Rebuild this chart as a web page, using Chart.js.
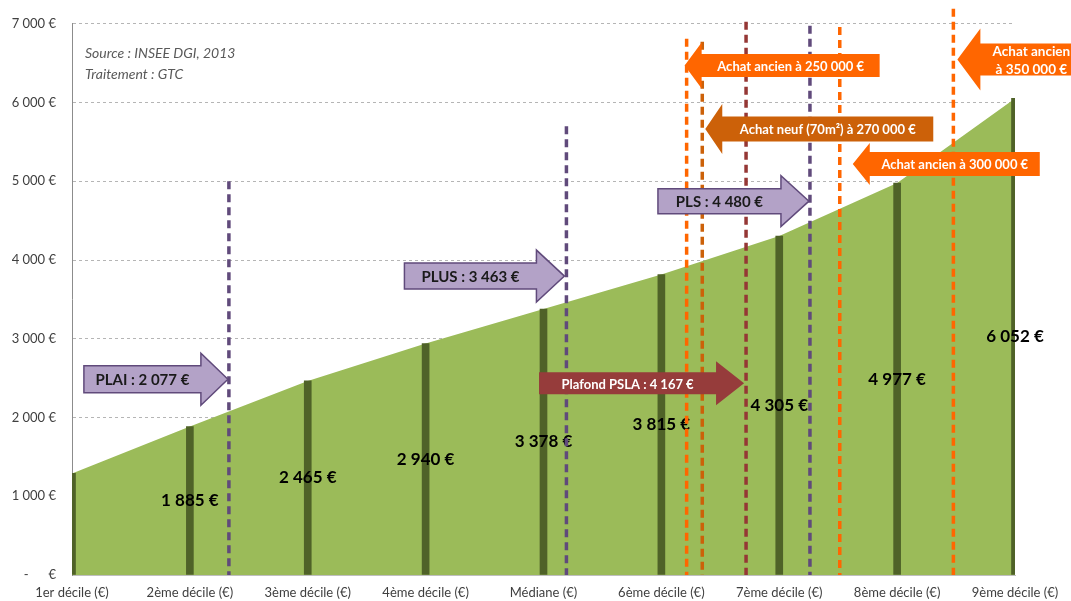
<!DOCTYPE html>
<html>
<head>
<meta charset="utf-8">
<script src="https://cdn.jsdelivr.net/npm/chart.js@4.4.0/dist/chart.umd.min.js"></script>
<style>
    html, body { margin: 0; padding: 0; background: #fff; }
    canvas { display: block; }
</style>
</head>
<body>
<canvas id="revenusChart" width="1071" height="601"></canvas>
<script>
// Revenus mensuels par décile
const deciles = ['1er décile (€)', '2ème décile (€)', '3ème décile (€)', '4ème décile (€)', 'Médiane (€)',
    '6ème décile (€)', '7ème décile (€)', '8ème décile (€)', '9ème décile (€)'];
const revenus = [1290, 1885, 2465, 2940, 3378, 3815, 4305, 4977, 6052];
const yTicks = [0, 1000, 2000, 3000, 4000, 5000, 6000, 7000];

// Plafonds de ressources (logement social / accession)
const plafondNoms = ['PLAI', 'PLUS', 'PLS', 'Plafond PSLA'];
const plafonds = [2077, 3463, 4480, 4167];

// Achats : prix et revenu mensuel nécessaire
const achatNoms = ['Achat ancien', 'Achat neuf (70m²)', 'Achat ancien', 'Achat ancien'];
const achatPrix = [250000, 270000, 300000, 350000];
const achatRevenus = [3920, 3985, 4650, 5490];

const fmt = v => String(v).replace(/\B(?=(\d{3})+(?!\d))/g, ' ') + ' €';

// position (en index de catégorie) d'un revenu sur la courbe
function indexPour(v) {
    for (let i = 0; i < revenus.length - 1; i++) {
        if (v <= revenus[i + 1]) return i + (v - revenus[i]) / (revenus[i + 1] - revenus[i]);
    }
    return revenus.length - 1;
}

// mise en forme des flèches : haut = fin du trait pointillé, y = centre de la flèche (en €)
const styleMarqueurs = [
    { trait: '#604a7b', fond: '#b3a2c7', bord: '#604a7b', texte: '#1a1a1a', haut: 5000, y: 2485, sens: 1, dx: -1, long: 144, corps: 13.5, tete: 26, teteL: 27, taille: 15 },
    { trait: '#604a7b', fond: '#b3a2c7', bord: '#604a7b', texte: '#1a1a1a', haut: 5700, y: 3796, sens: 1, dx: -2, long: 160, corps: 13, tete: 26, teteL: 28, taille: 15 },
    { trait: '#604a7b', fond: '#b3a2c7', bord: '#604a7b', texte: '#1a1a1a', haut: 6975, y: 4748, sens: 1, dx: -1, long: 151, corps: 12.5, tete: 25.5, teteL: 28, taille: 15 },
    { trait: '#953735', fond: '#963c3b', bord: null, texte: '#ffffff', haut: 7025, y: 2434, sens: 1, dx: -2, long: 205, corps: 11, tete: 22, teteL: 28, taille: 13 },
    { trait: '#ff6600', fond: '#ff6600', bord: null, texte: '#ffffff', haut: 6810, y: 6470, sens: -1, dx: -2, long: 195, corps: 11.5, tete: 23, teteL: 17, taille: 13 },
    { trait: '#cc6109', fond: '#cc6109', bord: null, texte: '#ffffff', haut: 6772, y: 5663, sens: -1, dx: 3, long: 228, corps: 12.5, tete: 25, teteL: 17, taille: 13 },
    { trait: '#ff6600', fond: '#ff6600', bord: null, texte: '#ffffff', haut: 6960, y: 5221, sens: -1, dx: 13, long: 187, corps: 12, tete: 21, teteL: 17, taille: 13 },
    { trait: '#ff6600', fond: '#ff6600', bord: null, texte: '#ffffff', haut: 7190, y: 6546, sens: -1, dx: 4, long: 125, corps: 16, tete: 31, teteL: 23, taille: 13.5 }
];

const marqueurs = [];
plafonds.forEach((v, i) => marqueurs.push({ revenu: v, lignes: [plafondNoms[i] + ' : ' + fmt(v)] }));
achatRevenus.forEach((v, i) => {
    const prix = 'à ' + fmt(achatPrix[i]);
    // le dernier libellé tient sur deux lignes
    marqueurs.push({ revenu: v, lignes: i === 3 ? [achatNoms[i], prix] : [achatNoms[i] + ' ' + prix] });
});

function fleche(ctx, tipX, cy, s) {
    const queue = tipX - s.sens * s.long;
    const dos = tipX - s.sens * s.teteL;
    ctx.beginPath();
    ctx.moveTo(queue, cy - s.corps);
    ctx.lineTo(dos, cy - s.corps);
    ctx.lineTo(dos, cy - s.tete);
    ctx.lineTo(tipX, cy);
    ctx.lineTo(dos, cy + s.tete);
    ctx.lineTo(dos, cy + s.corps);
    ctx.lineTo(queue, cy + s.corps);
    ctx.closePath();
    return (queue + dos) / 2;
}

const annotations = {
    id: 'annotations',
    afterDatasetsDraw(chart) {
        const ctx = chart.ctx;
        const xs = chart.scales.x, ys = chart.scales.y;
        const bars = chart.getDatasetMeta(0).data;
        ctx.save();

        // source
        ctx.font = 'italic 14px Lato';
        ctx.fillStyle = '#595959';
        ctx.textAlign = 'left';
        ctx.textBaseline = 'middle';
        ctx.fillText('Source : INSEE DGI, 2013', 85, 53);
        ctx.fillText('Traitement : GTC', 85, 74);

        // valeurs au milieu des barres (le 1er décile n'est pas étiqueté)
        ctx.font = 'bold 17px Lato';
        ctx.fillStyle = '#000';
        ctx.textAlign = 'center';
        for (let i = 1; i < revenus.length; i++) {
            ctx.fillText(fmt(revenus[i]), bars[i].x, ys.getPixelForValue(revenus[i] / 2));
        }

        // traits pointillés
        ctx.lineWidth = 3.5;
        ctx.setLineDash([8, 5]);
        marqueurs.forEach((m, i) => {
            const s = styleMarqueurs[i];
            const x = xs.getPixelForValue(indexPour(m.revenu));
            ctx.strokeStyle = s.trait;
            ctx.beginPath();
            ctx.moveTo(x, ys.getPixelForValue(s.haut));
            ctx.lineTo(x, ys.getPixelForValue(0));
            ctx.stroke();
        });
        ctx.setLineDash([]);

        // flèches
        marqueurs.forEach((m, i) => {
            const s = styleMarqueurs[i];
            const x = xs.getPixelForValue(indexPour(m.revenu)) + s.dx;
            const cy = ys.getPixelForValue(s.y);
            const cx = fleche(ctx, x, cy, s);
            ctx.fillStyle = s.fond;
            ctx.fill();
            if (s.bord) {
                ctx.lineWidth = 1.5;
                ctx.strokeStyle = s.bord;
                ctx.stroke();
            }
            ctx.font = 'bold ' + s.taille + 'px Lato';
            ctx.fillStyle = s.texte;
            const h = s.taille + 4;
            m.lignes.forEach((t, k) => {
                ctx.fillText(t, cx, cy + (k - (m.lignes.length - 1) / 2) * h + 1);
            });
        });
        ctx.restore();
    }
};

new Chart(document.getElementById('revenusChart').getContext('2d'), {
    type: 'line',
    data: {
        labels: deciles,
        datasets: [
            {
                type: 'bar',
                data: revenus,
                backgroundColor: '#4f6228',
                barThickness: 7,
                order: 0
            },
            {
                type: 'line',
                data: revenus,
                fill: 'origin',
                backgroundColor: '#9bbb59',
                borderWidth: 0,
                pointRadius: 0,
                tension: 0,
                order: 1
            }
        ]
    },
    options: {
        responsive: false,
        animation: false,
        layout: { padding: { left: 0, right: 56, top: 20, bottom: 0 } },
        plugins: {
            legend: { display: false },
            tooltip: { enabled: false }
        },
        scales: {
            x: {
                offset: false,
                grid: { display: false, offset: false },
                border: { color: '#bfbfbf' },
                ticks: {
                    color: '#404040',
                    font: { family: 'Lato', size: 13 },
                    maxRotation: 0,
                    autoSkip: false,
                    padding: 2
                },
                afterFit: s => { s.height = 26; }
            },
            y: {
                min: 0,
                max: 7000,
                afterBuildTicks: s => { s.ticks = yTicks.map(v => ({ value: v })); },
                grid: {
                    color: c => c.tick && c.tick.value === 0 ? 'transparent' : '#b5b5b5',
                    drawTicks: false
                },
                border: { color: '#8c8c8c', dash: [3, 3] },
                ticks: {
                    color: '#404040',
                    font: { family: 'Lato', size: 13 },
                    padding: 16,
                    callback: v => v === 0 ? '-      €' : fmt(v)
                },
                afterFit: s => { s.width = 72; }
            }
        }
    },
    plugins: [annotations]
});
</script>
</body>
</html>
